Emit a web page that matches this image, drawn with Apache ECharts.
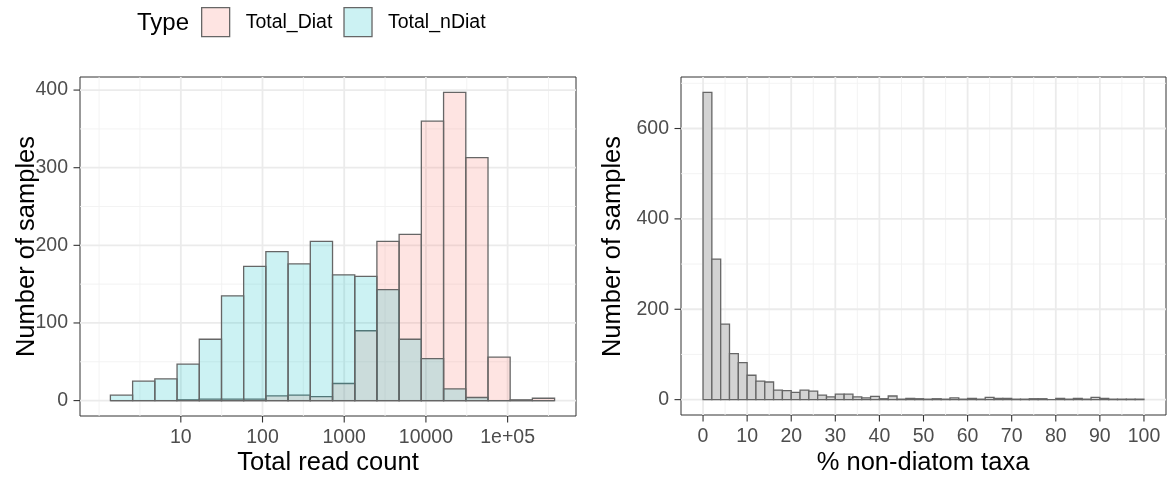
<!DOCTYPE html>
<html>
<head>
<meta charset="utf-8">
<script src="https://cdn.jsdelivr.net/npm/echarts@6/dist/echarts.min.js"></script>
<style>
html,body{margin:0;padding:0;background:#fff;}
#chart{width:1167px;height:477px;}
</style>
</head>
<body>
<div id="chart"></div>
<script>
// ---------- DATA ----------
// Left panel: histogram of total read count (log10 bin edges)
const leftBinEdges = [0.138, 0.410, 0.682, 0.954, 1.226, 1.498, 1.769, 2.041, 2.313, 2.585, 2.857,
                      3.129, 3.400, 3.672, 3.944, 4.216, 4.488, 4.760, 5.031, 5.303, 5.575];
const totalDiat  = [0, 0, 0, 1, 2, 2, 2, 6, 7, 5, 22, 90, 205, 214, 360, 397, 313, 56, 1, 3];
const totalNDiat = [7, 25, 28, 47, 79, 135, 173, 192, 176, 205, 162, 160, 143, 79, 54, 15, 4, 0, 0, 0];
const leftXTicks = [1, 2, 3, 4, 5];
const leftXTickLabels = ['10', '100', '1000', '10000', '1e+05'];
const leftXMinor = [0, 0.5, 1.5, 2.5, 3.5, 4.5, 5.5];
const leftYTicks = [0, 100, 200, 300, 400];
const leftYMinor = [50, 150, 250, 350];

// Right panel: histogram of % non-diatom taxa
const rightBinEdges = [0, 2, 4, 6, 8, 10, 12, 14, 16, 18, 20, 22, 24, 26, 28, 30, 32, 34, 36, 38, 40,
                       42, 44, 46, 48, 50, 52, 54, 56, 58, 60, 62, 64, 66, 68, 70, 72, 74, 76, 78, 80,
                       82, 84, 86, 88, 90, 92, 94, 96, 98, 100];
const nonDiatPct = [680, 311, 167, 102, 82, 54, 41, 39, 21, 20, 16, 21, 19, 10, 6, 12, 12, 6, 4, 7,
                    2, 8, 1, 3, 2, 1, 2, 1, 4, 1, 3, 1, 5, 3, 3, 1, 1, 2, 2, 0,
                    3, 1, 3, 1, 5, 3, 1, 1, 1, 1];
const rightXTicks = [0, 10, 20, 30, 40, 50, 60, 70, 80, 90, 100];
const rightXMinor = [5, 15, 25, 35, 45, 55, 65, 75, 85, 95];
const rightYTicks = [0, 200, 400, 600];
const rightYMinor = [100, 300, 500, 700];

// ---------- CHART ----------
const FONT = "'Liberation Sans', Arial, sans-serif";
const chart = echarts.init(document.getElementById('chart'), null, {renderer: 'canvas'});

function binRows(edges, counts) {
  return counts.map((c, i) => [edges[i], edges[i + 1], c]);
}
function barSeries(name, gi, rows, fill, z) {
  return {
    name: name, type: 'custom', xAxisIndex: gi, yAxisIndex: gi, z: z,
    encode: {x: [0, 1], y: 2},
    itemStyle: {color: fill, borderColor: '#666666', borderWidth: 1.3},
    renderItem: function (params, api) {
      const p0 = api.coord([api.value(0), 0]);
      const p1 = api.coord([api.value(1), api.value(2)]);
      return {
        type: 'rect',
        shape: {x: p0[0], y: p1[1], width: p1[0] - p0[0], height: p0[1] - p1[1]},
        style: {fill: fill, stroke: '#666666', lineWidth: 1.3}
      };
    },
    data: rows
  };
}
// gridlines (kind 0 = minor, 1 = major) and tick marks (kind 2), drawn through the axes' scales
function gridSeries(gi, xMajor, xMinor, yMajor, yMinor, xMin, yMin) {
  const rows = [];
  xMinor.forEach(v => rows.push([v, yMin, 0, 0]));
  yMinor.forEach(v => rows.push([xMin, v, 1, 0]));
  xMajor.forEach(v => rows.push([v, yMin, 0, 1]));
  yMajor.forEach(v => rows.push([xMin, v, 1, 1]));
  xMajor.forEach(v => rows.push([v, yMin, 0, 2]));
  yMajor.forEach(v => rows.push([xMin, v, 1, 2]));
  return {
    type: 'custom', xAxisIndex: gi, yAxisIndex: gi, z: 0, silent: true, clip: false,
    renderItem: function (params, api) {
      const cs = params.coordSys;
      const p = api.coord([api.value(0), api.value(1)]);
      const kind = api.value(3);
      if (kind === 2) {
        const st = {stroke: '#333333', lineWidth: 1.1};
        if (api.value(2) === 0) {
          const y0 = cs.y + cs.height;
          return {type: 'line', shape: {x1: p[0], y1: y0, x2: p[0], y2: y0 + 6.5}, style: st};
        }
        return {type: 'line', shape: {x1: cs.x - 6.5, y1: p[1], x2: cs.x, y2: p[1]}, style: st};
      }
      const style = {stroke: kind === 1 ? '#EBEBEB' : '#F2F2F2', lineWidth: kind === 1 ? 1.8 : 0.9};
      if (api.value(2) === 0) {
        return {type: 'line', shape: {x1: p[0], y1: cs.y, x2: p[0], y2: cs.y + cs.height}, style: style};
      }
      return {type: 'line', shape: {x1: cs.x, y1: p[1], x2: cs.x + cs.width, y2: p[1]}, style: style};
    },
    data: rows
  };
}
const tickLabelStyle = {color: '#4D4D4D', fontSize: 19.5, fontFamily: FONT};
function xAxisOpt(gi, min, max, ticks, fmt) {
  return {
    type: 'value', gridIndex: gi, min: min, max: max, position: 'bottom',
    axisLine: {show: false, onZero: false},
    axisTick: {show: false, customValues: ticks},
    axisLabel: Object.assign({customValues: ticks, margin: 12, formatter: fmt}, tickLabelStyle),
    splitLine: {show: false}
  };
}
function yAxisOpt(gi, min, max, ticks) {
  return {
    type: 'value', gridIndex: gi, min: min, max: max, position: 'left',
    axisLine: {show: false, onZero: false},
    axisTick: {show: false, customValues: ticks},
    axisLabel: Object.assign({customValues: ticks, margin: 12}, tickLabelStyle),
    splitLine: {show: false}
  };
}

const option = {
  backgroundColor: '#ffffff',
  animation: false,
  grid: [
    {left: 80, top: 77, width: 496, height: 339, show: true, borderColor: '#333333', borderWidth: 1, backgroundColor: 'transparent'},
    {left: 681, top: 77, width: 485, height: 338, show: true, borderColor: '#333333', borderWidth: 1, backgroundColor: 'transparent'}
  ],
  xAxis: [
    xAxisOpt(0, -0.234, 5.837, leftXTicks, function (v) {
      const i = leftXTicks.indexOf(v); return i >= 0 ? leftXTickLabels[i] : '';
    }),
    xAxisOpt(1, -5, 105, rightXTicks, function (v) { return String(v); })
  ],
  yAxis: [
    yAxisOpt(0, -19.85, 416.85, leftYTicks),
    yAxisOpt(1, -34, 714, rightYTicks)
  ],
  legend: {
    left: 201, top: 7, padding: 0, orient: 'horizontal', icon: 'rect',
    itemWidth: 28, itemHeight: 29, itemGap: 11,
    textStyle: {color: '#000000', fontSize: 19.5, fontFamily: FONT, padding: [0, 0, 0, 11]},
    data: [
      {name: 'Total_Diat', itemStyle: {color: 'rgba(248,118,109,0.2)', borderColor: '#666666', borderWidth: 1.3}},
      {name: 'Total_nDiat', itemStyle: {color: 'rgba(0,191,196,0.2)', borderColor: '#666666', borderWidth: 1.3}}
    ],
    selectedMode: false
  },
  graphic: [
    {type: 'text', x: 137, y: 23, style: {text: 'Type', textAlign: 'left', textVerticalAlign: 'middle', fill: '#000', font: '24px ' + FONT}},
    {type: 'text', x: 27, y: 246.5, rotation: Math.PI / 2, style: {text: 'Number of samples', textAlign: 'center', textVerticalAlign: 'middle', fill: '#000', font: '25.5px ' + FONT}},
    {type: 'text', x: 613, y: 246.5, rotation: Math.PI / 2, style: {text: 'Number of samples', textAlign: 'center', textVerticalAlign: 'middle', fill: '#000', font: '25.5px ' + FONT}},
    {type: 'text', x: 328, y: 463, style: {text: 'Total read count', textAlign: 'center', textVerticalAlign: 'middle', fill: '#000', font: '25.5px ' + FONT}},
    {type: 'text', x: 923, y: 463, style: {text: '% non-diatom taxa', textAlign: 'center', textVerticalAlign: 'middle', fill: '#000', font: '25.5px ' + FONT}}
  ],
  series: [
    gridSeries(0, leftXTicks, leftXMinor, leftYTicks, leftYMinor, -0.234, -19.85),
    gridSeries(1, rightXTicks, rightXMinor, rightYTicks, rightYMinor, -5, -34),
    barSeries('Total_Diat', 0, binRows(leftBinEdges, totalDiat), 'rgba(248,118,109,0.2)', 2),
    barSeries('Total_nDiat', 0, binRows(leftBinEdges, totalNDiat), 'rgba(0,191,196,0.2)', 3),
    barSeries('pct', 1, binRows(rightBinEdges, nonDiatPct), '#D3D3D3', 2)
  ]
};
chart.setOption(option);
</script>
</body>
</html>
